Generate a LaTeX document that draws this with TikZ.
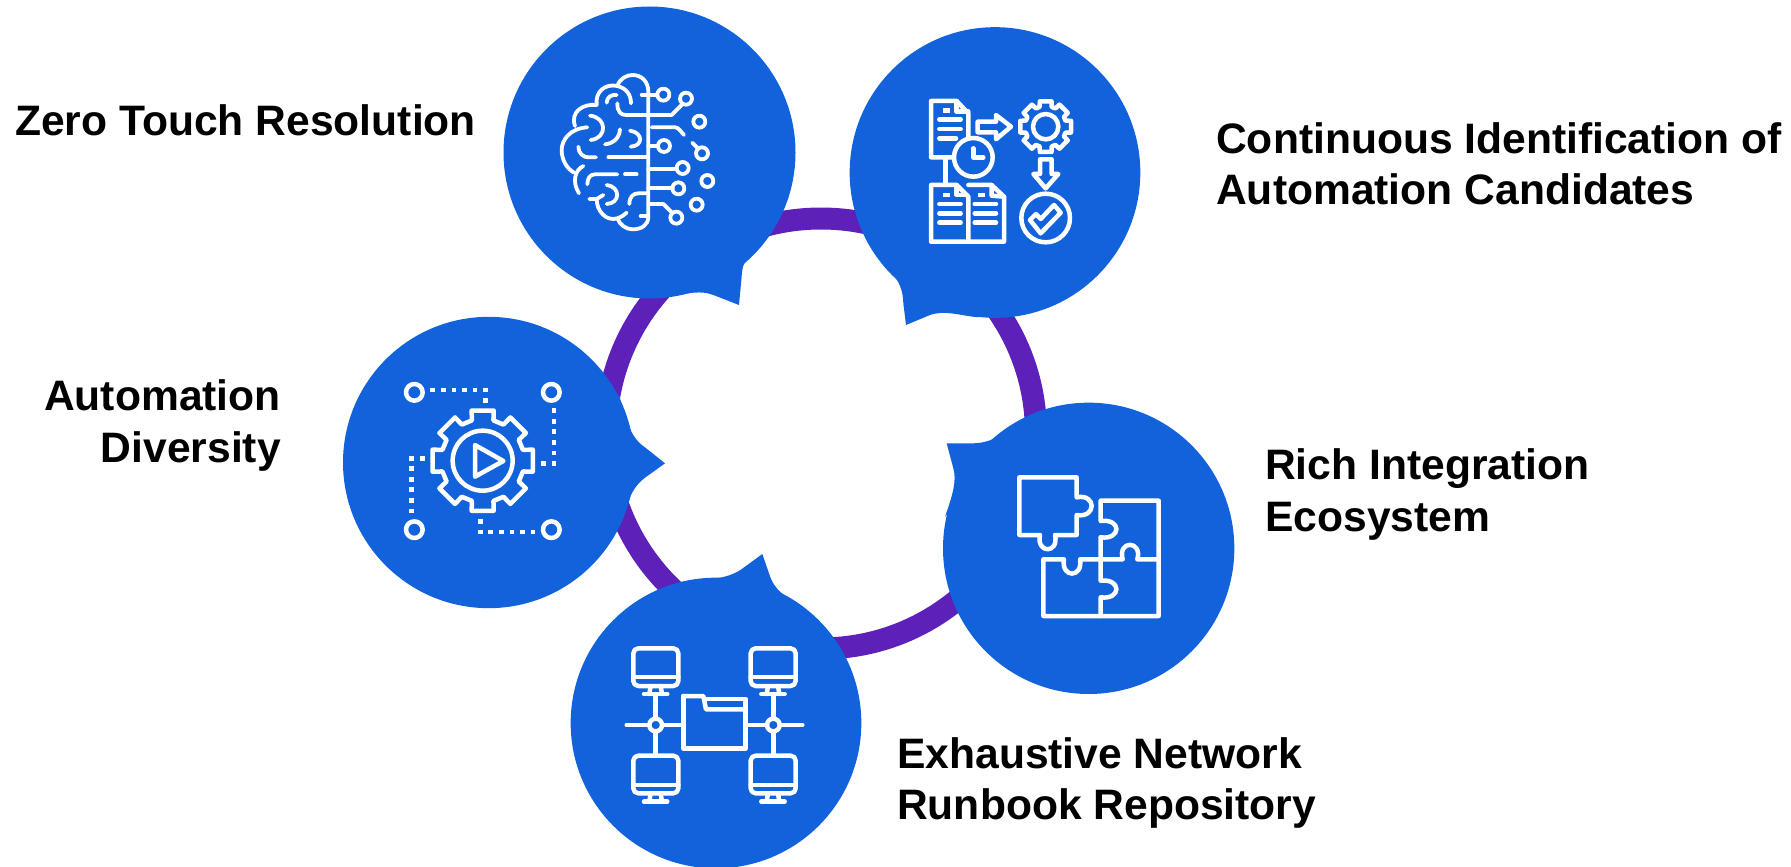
\documentclass[tikz,border=0pt]{standalone}
\usepackage{fontspec}
\setmainfont{Liberation Sans}
\definecolor{bub}{RGB}{18,98,220}
\definecolor{ringc}{RGB}{93,32,184}
\tikzset{
  bubble/.style={fill=bub,draw=none},
  icon/.style={draw=white,line width=4.5pt,line join=round,line cap=round,fill=none},
  thinicon/.style={draw=white,line width=3.8pt,line join=round,line cap=round,fill=none},
  dot/.style={fill=white,draw=none},
  label/.style={font=\fontsize{42.6}{51.5}\selectfont\bfseries,text=black,inner sep=0pt,align=left}
}
% gear: cx cy router rinner halfout halfin
\newcommand{\gearpath}[6]{%
  \draw[icon] ({#1+#3*cos(-90-#5)},{#2+#3*sin(-90-#5)})
  \foreach \k in {0,...,7}{
    -- ({#1+#3*cos(-90-#5+45*\k)},{#2+#3*sin(-90-#5+45*\k)})
    -- ({#1+#3*cos(-90+#5+45*\k)},{#2+#3*sin(-90+#5+45*\k)})
    -- ({#1+#4*cos(-90+#6+45*\k)},{#2+#4*sin(-90+#6+45*\k)})
    -- ({#1+#4*cos(-90-#6+45*\k+45)},{#2+#4*sin(-90-#6+45*\k+45)})
  } -- cycle;}
\newcommand{\bitsq}[2]{\fill[dot] (#1-7,#2-7) rectangle (#1+7,#2+7);}
\newcommand{\monitor}[4]{% x y barline baseline
  \draw[icon,rounded corners=5pt] (#1,#2) rectangle (#1+135,#2+113);
  \draw[icon] (#1,#3) -- (#1+135,#3);
  \draw[icon] (#1+52,#2+113) -- (#1+48,#4);
  \draw[icon] (#1+82,#2+113) -- (#1+86,#4);
  \draw[icon] (#1+32,#4) -- (#1+102,#4);}
\begin{document}
\begin{tikzpicture}[x=1pt,y=-1pt]
\useasboundingbox (0,0) rectangle (1791,867);
\clip (0,0) rectangle (1791,867);
% ring
\draw[ringc,line width=22pt] (821,433.5) circle[radius=215];

% ---------- brain bubble
\begin{scope}[shift={(500,0)},x=0.33333pt,y=-0.33333pt]
\fill[bubble] (448.5,457.5) circle[radius=438];
\fill[bubble] (800,708) .. controls (770,745) and (725,770) .. (725,830) -- (717,915)
  -- (640,885) .. controls (600,870) and (570,880) .. (500,890) -- cycle;
\begin{scope}[thinicon]
\draw (262,382) .. controls (210,385) and (185,420) .. (185,450) .. controls (185,480) and (200,505) .. (222,518);
\draw (225,378) .. controls (210,335) and (250,310) .. (290,315) .. controls (285,275) and (315,250) .. (352,258)
  .. controls (360,235) and (380,225) .. (398,225) .. controls (425,225) and (445,245) .. (445,275) -- (445,650)
  .. controls (445,675) and (425,688) .. (398,688) .. controls (378,688) and (360,675) .. (352,655);
\draw (352,258) .. controls (380,265) and (393,285) .. (393,310);
\draw (250,498) .. controls (225,510) and (215,545) .. (237,580);
\draw (290,597) .. controls (290,635) and (320,665) .. (352,655) .. controls (362,652) and (372,645) .. (380,638);
\draw (268,597) -- (290,597) -- (310,585);
\draw (320,308) .. controls (320,292) and (335,282) .. (350,285);
\draw (352,310) .. controls (352,335) and (362,345) .. (378,345) -- (515,345) -- (546,314);
\draw (425,284) -- (472,284);
\draw (455,382) -- (525,382) .. controls (535,382) and (540,392) .. (552,405);
\draw (577,428) -- (594,445);
\draw (445,438) -- (474,438);
\draw (445,508) -- (530,508);
\draw (445,565) -- (518,565);
\draw (445,612) -- (490,612) -- (516,638);
\draw (270,347) .. controls (322,352) and (322,415) .. (272,420);
\draw (315,433) .. controls (340,430) and (358,415) .. (360,388);
\draw (390,392) .. controls (430,398) and (430,438) .. (392,440);
\draw (235,440) .. controls (235,460) and (250,472) .. (265,472) -- (288,472);
\draw (325,472) -- (440,472);
\draw (352,523) -- (285,523) .. controls (270,523) and (262,535) .. (262,553);
\draw (375,523) -- (410,523);
\draw (320,555) .. controls (362,560) and (362,610) .. (320,612);
\draw (388,612) .. controls (388,590) and (400,580) .. (415,580) -- (440,580);
\draw (422,648) -- (445,648);
\draw (490,284) circle[radius=18];
\draw (558,296) circle[radius=18];
\draw (598,365) circle[radius=18];
\draw (606,460) circle[radius=18];
\draw (492,438) circle[radius=18];
\draw (548,504) circle[radius=18];
\draw (535,565) circle[radius=18];
\draw (622,543) circle[radius=18];
\draw (590,614) circle[radius=18];
\draw (529,653) circle[radius=18];
\end{scope}
\end{scope}

% ---------- continuous bubble
\begin{scope}[shift={(850,20)},x=0.33333pt,y=-0.33333pt]
\fill[bubble] (435,457.5) circle[radius=436];
\fill[bubble] (75,700) .. controls (110,750) and (158,770) .. (160,850) -- (168,915)
  -- (240,885) .. controls (285,870) and (320,885) .. (385,892) -- cycle;
\draw[icon] (310,412) -- (243,412) -- (243,243) -- (320,243) -- (355,280) -- (355,352);
\draw[icon] (320,243) -- (320,275) -- (355,275);
\fill[dot] (280,265) rectangle (300,278);
\draw[icon] (268,298) -- (332,298) (268,327) -- (332,327) (268,355) -- (318,355);
\draw[icon] (370,412) circle[radius=58];
\draw[icon] (370,385) -- (370,412) -- (400,412);
\draw[icon] (287,415) -- (287,495);
\draw[icon] (243,495) -- (320,495) -- (355,530) -- (355,665) -- (243,665) -- cycle;
\draw[icon] (320,495) -- (320,525) -- (350,525);
\fill[dot] (280,518) rectangle (300,530);
\draw[icon] (268,552) -- (332,552) (268,580) -- (332,580) (268,608) -- (332,608);
\draw[icon] (355,495) -- (425,495) -- (462,530) -- (462,665) -- (355,665);
\draw[icon] (425,495) -- (425,527) -- (462,530);
\fill[dot] (385,518) rectangle (405,530);
\draw[icon] (374,552) -- (438,552) (374,580) -- (438,580) (374,608) -- (438,608);
\draw[icon] (383,305) -- (438,305) -- (438,285) -- (483,320) -- (438,358) -- (438,337) -- (383,337) -- cycle;
\gearpath{587}{320}{78}{62}{13}{17}
\draw[icon] (587,320) circle[radius=38];
\draw[icon] (570,418) -- (605,418) -- (605,462) -- (625,462) -- (587,505) -- (550,462) -- (570,462) -- cycle;
\draw[icon] (587,594) circle[radius=73];
\draw[icon] (540,600) -- (558,582) -- (572,597) -- (612,555) -- (632,578) -- (572,640) -- cycle;
\end{scope}

% ---------- automation bubble
\begin{scope}[shift={(340,310)},x=0.33333pt,y=-0.33333pt]
\fill[bubble] (446,457.5) circle[radius=437];
\fill[bubble] (835,250) .. controls (855,310) and (865,380) .. (915,412) -- (975,460)
  -- (915,503) .. controls (880,530) and (870,560) .. (860,590) -- cycle;
\gearpath{428}{452}{154}{125}{12.4}{15}
\draw[icon] (428,452) circle[radius=90];
\draw[icon] (405,405) -- (490,453) -- (405,500) -- cycle;
\draw[icon] (223,247) circle[radius=25];
\draw[icon] (634,247) circle[radius=25];
\draw[icon] (223,659) circle[radius=25];
\draw[icon] (634,659) circle[radius=25];
\foreach \q in {278,310,342,374,405,437}{\bitsq{\q}{240}}
\bitsq{437}{271}
\foreach \q in {302,334,365,397,429,460}{\bitsq{642}{\q}}
\bitsq{611}{460}
\foreach \q in {603,571,539,508,476,445}{\bitsq{215}{\q}}
\bitsq{247}{445}
\bitsq{421}{634}
\foreach \q in {421,452,484,516,547,579}{\bitsq{\q}{666}}
\end{scope}

% ---------- puzzle bubble
\begin{scope}[shift={(940,400)},x=0.33333pt,y=-0.33333pt]
\fill[bubble] (446,445) circle[radius=437];
\fill[bubble] (255,52) .. controls (190,100) and (160,130) .. (95,130) -- (20,130)
  -- (40,205) .. controls (50,240) and (40,280) .. (15,350) -- cycle;
\draw[icon] (238,232) -- (410,232) -- (410,292) .. controls (470,280) and (470,355) .. (410,345)
  -- (410,405) -- (345,405) .. controls (358,462) and (288,462) .. (300,405) -- (238,405) -- cycle;
\draw[icon] (482,412) .. controls (545,420) and (545,355) .. (482,363) -- (482,302) -- (656,302) -- (656,478)
  -- (592,478) .. controls (608,420) and (532,420) .. (548,478) -- (420,478)
  .. controls (430,535) and (362,535) .. (372,478) -- (310,478) -- (310,648) -- (656,648) -- (656,478);
\draw[icon] (482,412) -- (482,542) .. controls (545,535) and (545,600) .. (482,592) -- (482,648);
\end{scope}

% ---------- network bubble
\begin{scope}[shift={(570,550)},x=0.33333pt,y=-0.33333pt]
\fill[bubble] (438,519) circle[radius=436];
\fill[bubble] (330,97) .. controls (400,85) and (470,95) .. (525,50) -- (577,12)
  -- (597,70) .. controls (615,125) and (640,135) .. (720,190) -- cycle;
\monitor{190}{295}{381}{432}
\monitor{542}{295}{381}{432}
\monitor{190}{617}{705}{755}
\monitor{542}{617}{705}{755}
\draw[icon] (257,432) -- (257,505) (257,545) -- (257,617);
\draw[icon] (610,432) -- (610,505) (610,545) -- (610,617);
\draw[icon] (257,525) circle[radius=19];
\draw[icon] (610,525) circle[radius=19];
\draw[icon] (170,525) -- (238,525) (277,525) -- (340,525) (530,525) -- (591,525) (630,525) -- (697,525);
\draw[icon] (340,438) -- (400,438) -- (408,478) -- (527,478);
\draw[icon] (340,438) -- (340,595) -- (527,595) -- (527,447) -- (403,447);
\end{scope}

% ---------- labels
\node[label,anchor=west] (zero) at (15,120) {Zero Touch Resolution};
\node[label,anchor=west] (cont) at (1216,164) {Continuous Identification of\\Automation Candidates};
\node[label,anchor=east,align=right] (auto) at (281,425.5) {Automation\\Diversity};
\node[label,anchor=west] (rich) at (1265,494.5) {Rich Integration\\Ecosystem};
\node[label,anchor=west] (exh) at (897,783) {Exhaustive Network\\Runbook Repository};
\end{tikzpicture}
\end{document}
